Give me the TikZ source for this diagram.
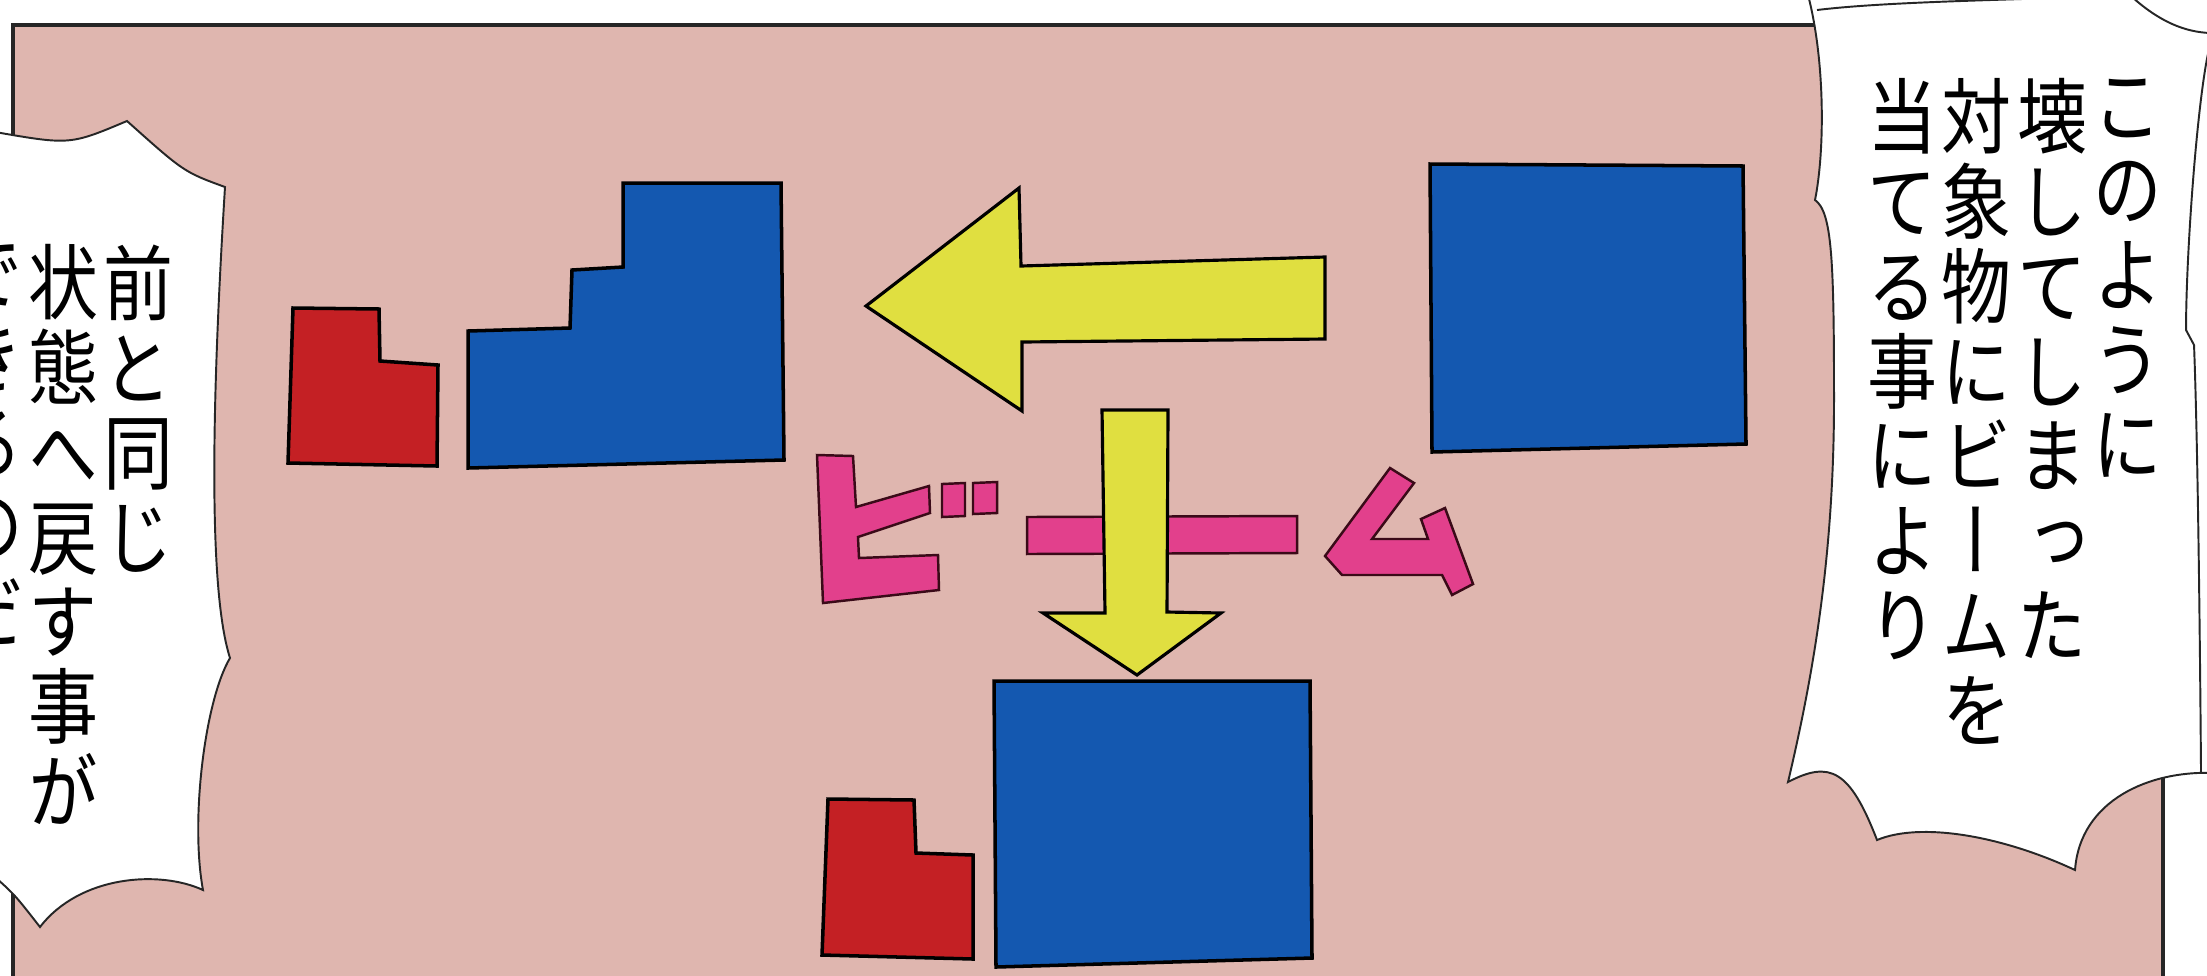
\documentclass[tikz,border=0pt]{standalone}
\usepackage{fontspec}
\newfontfamily\jpfont[FakeStretch=0.85,RawFeature={+vert}]{Noto Sans CJK JP}
\definecolor{panelpink}{HTML}{DFB6AF}
\definecolor{objblue}{HTML}{1458B0}
\definecolor{objred}{HTML}{C42024}
\definecolor{arrowyellow}{HTML}{E0DF40}
\definecolor{beampink}{HTML}{E2408C}
\definecolor{beamline}{HTML}{3A0A18}
\tikzset{
  panelborder/.style={draw=black!85, line width=0.9pt},
  blockshape/.style={draw=black, line width=1pt, line join=miter},
  arrowshape/.style={fill=arrowyellow, draw=black, line width=0.9pt, line join=miter},
  letter/.style={fill=beampink, draw=beamline, line width=0.7pt, line join=miter},
  bubble/.style={fill=white, draw=black!85, line width=0.55pt, line join=miter},
  bubbleline/.style={draw=black!85, line width=0.55pt},
  vtext/.style={font=\jpfont\fontsize{23.4pt}{24.1pt}\selectfont, align=center, inner sep=0pt, anchor=north, text=black}
}
\begin{document}
\begin{tikzpicture}[x=0.01cm,y=-0.01cm]
\useasboundingbox (0,0) rectangle (2207,975);
\clip (0,0) rectangle (2207,975);
\fill[white] (0,0) rectangle (2207,975);
% panel
\fill[panelpink] (13,25) rectangle (2163,990);
\draw[panelborder] (13,990) -- (13,25) -- (2163,25) -- (2163,990);

% left group (broken object)
\draw[blockshape, fill=objred] (293,308) -- (379,309) -- (380,361) -- (438,365) -- (437,466) -- (288,463) -- cycle;
\draw[blockshape, fill=objblue] (468,331) -- (570,328) -- (572,270) -- (623,267) -- (623,183) -- (781,183) -- (784,460) -- (468,468) -- cycle;

% left arrow
\draw[arrowshape] (866,306) -- (1019,188) -- (1021,266) -- (1325,257) -- (1325,339) -- (1022,342) -- (1022,411) -- cycle;

% right blue square
\draw[blockshape, fill=objblue] (1430,164) -- (1743,166) -- (1746,444) -- (1432,452) -- cycle;

% beam letters
\draw[letter] (817,455) -- (853,456) -- (856,507) -- (929,486) -- (930,513) -- (858,537) -- (859,558) -- (938,555) -- (939,590) -- (823,603) -- cycle;
\draw[letter] (942,484) -- (965,483) -- (965,516) -- (942,517) -- cycle;
\draw[letter] (973,483) -- (997,482) -- (997,513) -- (973,514) -- cycle;
\draw[letter] (1027,517) -- (1297,516) -- (1297,553) -- (1027,554) -- cycle;
\draw[letter] (1390,468) -- (1414,483) -- (1372,539) -- (1428,539) -- (1421,519) -- (1445,508) -- (1473,584) -- (1452,595) -- (1442,575) -- (1342,575) -- (1325,556) -- cycle;

% down arrow
\draw[arrowshape] (1102,410) -- (1168,410) -- (1167,612) -- (1221,613) -- (1137,675) -- (1043,613) -- (1105,613) -- cycle;

% bottom group (restored object)
\draw[blockshape, fill=objred] (828,799) -- (914,800) -- (916,853) -- (973,855) -- (973,959) -- (822,955) -- cycle;
\draw[blockshape, fill=objblue] (994,681) -- (1310,681) -- (1312,958) -- (996,967) -- cycle;

% left speech bubble
\draw[bubble] (-5,132) .. controls (70,145) .. (127,121)
  .. controls (184,172) .. (225,187)
  .. controls (215,350) and (205,580) .. (230,658)
  .. controls (205,700) and (190,820) .. (203,890)
  .. controls (160,870) and (80,875) .. (40,927)
  .. controls (15,895) .. (-5,877) -- cycle;

% right speech bubble
\draw[bubble] (1808,-5) .. controls (1825,60) and (1825,150) .. (1815,200)
  .. controls (1832,212) and (1834,260) .. (1834,400)
  .. controls (1834,560) and (1812,680) .. (1788,782)
  .. controls (1830,760) and (1850,770) .. (1877,840)
  .. controls (1920,822) and (2000,835) .. (2075,870)
  .. controls (2080,800) and (2150,770) .. (2215,773)
  -- (2215,-5) -- cycle;
\draw[bubbleline] (1817,10) .. controls (1900,0) and (2050,0) .. (2110,-5);
\draw[bubbleline] (2132,-3) .. controls (2160,22) and (2185,32) .. (2210,33);
\draw[bubbleline] (2210,45) .. controls (2198,90) and (2186,250) .. (2186,330)
  -- (2194,345) .. controls (2198,450) and (2200,650) .. (2201,773);

% texts
\node[vtext] (r1) at (2127,78) {こ\\の\\よ\\う\\に};
\node[vtext] (r2) at (2052,78) {壊\\し\\て\\し\\ま\\っ\\た};
\node[vtext] (r3) at (1976,78) {対\\象\\物\\に\\ビ\\ー\\ム\\を};
\node[vtext] (r4) at (1902,78) {当\\て\\る\\事\\に\\よ\\り};
\node[vtext] (l1) at (138,244) {前\\と\\同\\じ};
\node[vtext] (l2) at (63,244) {状\\態\\へ\\戻\\す\\事\\が};
\node[vtext] (l3) at (-12,244) {で\\き\\る\\の\\だ};
\end{tikzpicture}
\end{document}
